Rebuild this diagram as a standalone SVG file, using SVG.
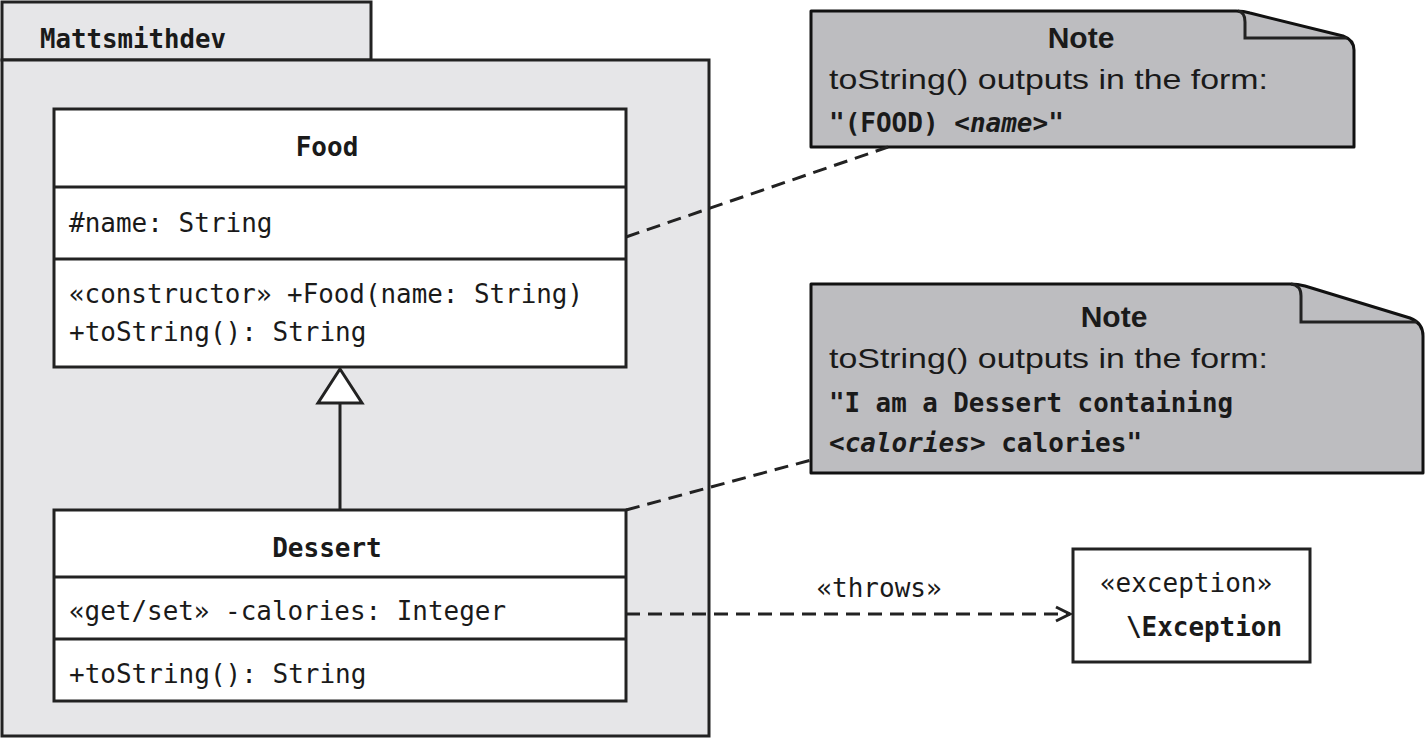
<svg xmlns="http://www.w3.org/2000/svg" width="1426" height="739" viewBox="0 0 1426 739">
<style>
.mono{font-family:"DejaVu Sans Mono","Liberation Mono",monospace;font-size:26px;fill:#1a1a1a}
.b{font-weight:bold}
.sans{font-family:"Liberation Sans","DejaVu Sans",sans-serif;fill:#1a1a1a}
.box{fill:#fff;stroke:#222;stroke-width:3}
.pkg{fill:#e6e6e8;stroke:#222;stroke-width:3}
.note{fill:#bdbdc0;stroke:#111;stroke-width:3;stroke-linejoin:round}
.dash{fill:none;stroke:#222;stroke-width:3;stroke-dasharray:14 8}
.ln{fill:none;stroke:#222;stroke-width:3}
</style>
<defs>
<marker id="open" markerWidth="20" markerHeight="20" refX="16" refY="10" orient="auto" markerUnits="userSpaceOnUse">
<path d="M2,3 L16,10 L2,17" fill="none" stroke="#222" stroke-width="3"/>
</marker>
</defs>
<g id="package">
<rect class="pkg" x="2" y="2" width="369" height="58"/>
<rect class="pkg" x="2" y="60" width="707" height="676"/>
<text class="mono b" x="40" y="48" textLength="186" lengthAdjust="spacingAndGlyphs">Mattsmithdev</text>
</g>
<g id="food">
<rect class="box" x="54" y="109" width="572" height="258"/>
<line class="ln" x1="54" y1="187" x2="626" y2="187"/>
<line class="ln" x1="54" y1="259" x2="626" y2="259"/>
<text class="mono b" x="327" y="156" text-anchor="middle">Food</text>
<text class="mono" x="69" y="232">#name: String</text>
<text class="mono" x="69" y="303" textLength="514" lengthAdjust="spacingAndGlyphs">«constructor» +Food(name: String)</text>
<text class="mono" x="69" y="341">+toString(): String</text>
</g>
<g id="dessert">
<rect class="box" x="54" y="510" width="572" height="191"/>
<line class="ln" x1="54" y1="577" x2="626" y2="577"/>
<line class="ln" x1="54" y1="639" x2="626" y2="639"/>
<text class="mono b" x="327" y="557" text-anchor="middle">Dessert</text>
<text class="mono" x="69" y="620" textLength="437" lengthAdjust="spacingAndGlyphs">«get/set» -calories: Integer</text>
<text class="mono" x="69" y="683">+toString(): String</text>
</g>
<g id="exception">
<rect class="box" x="1073" y="549" width="237" height="113"/>
<text class="mono" x="1186" y="592" text-anchor="middle">«exception»</text>
<text class="mono b" x="1126" y="636" textLength="156" lengthAdjust="spacingAndGlyphs">\Exception</text>
</g>
<g id="note1">
<path class="note" d="M811,11 H1236 Q1244,11 1250,13 L1343,36 Q1354,40 1354,50 V147 H811 Z"/>
<path class="ln" d="M1238,11 Q1245,12 1245,22 V38 H1347"/>
<text class="sans b" x="1081" y="48" font-size="30" text-anchor="middle">Note</text>
<text class="sans" x="829" y="89" font-size="28" textLength="439" lengthAdjust="spacingAndGlyphs">toString() outputs in the form:</text>
<text class="mono b" x="829" y="132">"(FOOD) <tspan font-style="italic">&lt;name&gt;</tspan>"</text>
</g>
<g id="note2">
<path class="note" d="M811,284 H1290 Q1298,284 1305,286 L1410,318 Q1423,323 1423,336 V473 H811 Z"/>
<path class="ln" d="M1291,284 Q1301,285 1301,296 V322 H1417"/>
<text class="sans b" x="1114" y="327" font-size="30" text-anchor="middle">Note</text>
<text class="sans" x="829" y="368" font-size="28" textLength="439" lengthAdjust="spacingAndGlyphs">toString() outputs in the form:</text>
<text class="mono b" x="829" y="412" textLength="404" lengthAdjust="spacingAndGlyphs">"I am a Dessert containing</text>
<text class="mono b" x="829" y="452"><tspan font-style="italic">&lt;calories&gt;</tspan> calories"</text>
</g>
<g id="connectors">
<line class="ln" x1="340" y1="403" x2="340" y2="510"/>
<path d="M340,369 L362,403 L318,403 Z" fill="#fff" stroke="#222" stroke-width="3" stroke-linejoin="miter"/>
<line class="dash" x1="626" y1="237" x2="888" y2="147"/>
<line class="dash" x1="626" y1="510" x2="811" y2="460"/>
<line class="dash" x1="626" y1="614" x2="1070" y2="614" marker-end="url(#open)"/>
<text class="mono" x="879" y="597" font-size="25" text-anchor="middle">«throws»</text>
</g>
</svg>
